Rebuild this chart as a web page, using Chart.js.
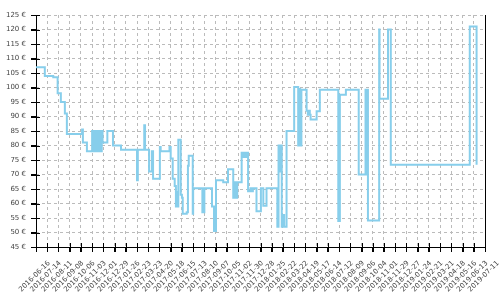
<!DOCTYPE html>
<html><head><meta charset="utf-8">
<script src="https://cdn.jsdelivr.net/npm/chart.js@4/dist/chart.umd.min.js"></script>
<style>html,body{margin:0;padding:0;background:#fff}#wrap{width:500px;height:300px}</style>
</head><body><div id="wrap"><canvas id="c" width="500" height="300"></canvas></div>
<script>
const startDate = '2016-06-16';
const tickDates = ['2016-06-16','2016-07-14','2016-08-11','2016-09-08','2016-10-06','2016-11-03','2016-12-01','2016-12-29',
 '2017-01-26','2017-02-23','2017-03-23','2017-04-20','2017-05-18','2017-06-15','2017-07-13','2017-08-10','2017-09-07',
 '2017-10-05','2017-11-02','2017-11-30','2017-12-28','2018-01-25','2018-02-22','2018-03-22','2018-04-19','2018-05-17',
 '2018-06-14','2018-07-12','2018-08-09','2018-09-06','2018-10-04','2018-11-01','2018-11-29','2018-12-27','2019-01-24',
 '2019-02-21','2019-03-21','2019-04-18','2019-05-16','2019-06-13','2019-07-11'];
const yTicks = [45,50,55,60,65,70,75,80,85,90,95,100,105,110,115,120,125];
const priceDates = ['2016-06-16','2016-07-08','2016-07-29','2016-08-09','2016-08-17','2016-08-27','2016-09-01',
 '2016-10-09','2016-10-11','2016-10-21','2016-11-03','2016-11-05','2016-11-07','2016-11-10','2016-11-12','2016-11-14',
 '2016-11-17','2016-11-19','2016-11-21','2016-11-24','2016-11-27','2016-11-29','2016-12-11','2016-12-25','2017-01-14',
 '2017-02-23','2017-02-25','2017-03-13','2017-03-15','2017-03-25','2017-04-01','2017-04-04','2017-04-21','2017-04-23',
 '2017-05-15','2017-05-18','2017-05-23','2017-05-28','2017-05-31','2017-06-02','2017-06-04','2017-06-06','2017-06-12',
 '2017-06-15','2017-06-17','2017-06-27','2017-06-30','2017-07-02','2017-07-12','2017-07-13','2017-08-05','2017-08-10',
 '2017-08-29','2017-09-03','2017-09-08','2017-09-26','2017-10-08','2017-10-21','2017-10-24','2017-10-26','2017-10-31',
 '2017-11-11','2017-11-14','2017-11-17','2017-11-20','2017-11-23','2017-11-27','2017-12-03','2017-12-06','2017-12-09',
 '2017-12-18','2017-12-29','2018-01-04','2018-01-12','2018-02-08','2018-02-11','2018-02-14','2018-02-16','2018-02-19',
 '2018-02-22','2018-02-25','2018-03-03','2018-03-22','2018-04-01','2018-04-04','2018-04-06','2018-04-09','2018-04-22',
 '2018-04-25','2018-04-27','2018-04-30','2018-05-02','2018-05-17','2018-05-25','2018-07-10','2018-07-14','2018-07-29',
 '2018-08-30','2018-09-16','2018-09-18','2018-09-20','2018-09-22','2018-10-20','2018-10-21','2018-11-11','2018-11-18',
 '2019-06-03','2019-06-20'];
const prices = [107,104,103.5,98,95,91,84,
 85.5,81,78,85,78,85,78,85,78,
 85,78,85,78,85,81,85,80,78.5,
 68,78.5,87,78.5,71,78,68.5,79.5,78,
 79.5,75.5,68.5,66,59,64,59,82,63,
 62,56.5,57,73,76.5,56.5,65.3,57,65.3,
 59,50.5,68,67.3,71.8,62,67.3,62,67.3,
 77.5,76,77.5,76,77.5,64.2,65.3,64.2,65.3,
 57.3,65.3,59.2,65.3,52,80,71,80,52,
 56,52,85,100.2,80,99.5,80,99.2,92,
 90.6,92,90.6,89,91.8,99.2,54,97.5,99.2,
 70,99.2,70,99.2,54.1,120,96.1,120,73.4,
 121,73.4];

const DAY = 86400000;
const t0 = Date.parse(startDate);
const toDay = s => Math.round((Date.parse(s) - t0) / DAY);
const tickDays = tickDates.map(toDay);
const points = priceDates.map((d, i) => ({x: toDay(d), y: prices[i]}));

const axisMarks = {
  id: 'axisMarks',
  beforeDatasetsDraw(chart) {
    const {ctx, chartArea: a, scales: {x, y}} = chart;
    ctx.save();
    ctx.strokeStyle = '#000';
    ctx.lineWidth = 1;
    ctx.setLineDash([]);
    ctx.beginPath();
    x.ticks.forEach((t, i) => {
      const px = Math.round(x.getPixelForTick(i)) + 0.5;
      ctx.moveTo(px, a.bottom + 5); ctx.lineTo(px, a.bottom - 4);
    });
    y.ticks.forEach((t, i) => {
      const py = Math.round(y.getPixelForTick(i)) + 0.5;
      ctx.moveTo(a.left - 5, py); ctx.lineTo(a.left + 4, py);
    });
    const lx = Math.round(a.left) + 0.5, rx = Math.round(a.right) + 0.5, by = Math.round(a.bottom) + 0.5;
    ctx.moveTo(lx, a.top); ctx.lineTo(lx, by);
    ctx.lineTo(rx, by); ctx.lineTo(rx, a.top);
    ctx.stroke();
    ctx.restore();
  }
};

new Chart(document.getElementById('c'), {
  type: 'line',
  data: {
    datasets: [{
      data: points,
      stepped: true,
      borderColor: '#87ceeb',
      borderWidth: 2,
      pointRadius: 0,
      fill: false
    }]
  },
  options: {
    responsive: false,
    devicePixelRatio: 1,
    animation: false,
    layout: {padding: {top: 15, right: 15, left: 0, bottom: 0}},
    plugins: {legend: {display: false}, tooltip: {enabled: false}},
    scales: {
      x: {
        type: 'linear',
        min: tickDays[0],
        max: tickDays[tickDays.length - 1],
        afterBuildTicks: s => { s.ticks = tickDays.map(v => ({value: v})); },
        afterFit: s => { s.height = 53; s.paddingLeft = 0; s.paddingRight = 0; },
        grid: {color: '#bbbbbb', lineWidth: 1, tickColor: '#000', tickLength: 5, tickBorderDash: []},
        border: {display: false, dash: [3, 3]},
        ticks: {
          autoSkip: false,
          maxRotation: 45, minRotation: 45,
          labelOffset: 13, padding: 7,
          color: '#444',
          font: {family: 'DejaVu Sans', size: 7},
          callback: v => { const i = tickDays.indexOf(v); return i >= 0 ? tickDates[i] : ''; }
        }
      },
      y: {
        min: yTicks[0],
        max: yTicks[yTicks.length - 1],
        afterBuildTicks: s => { s.ticks = yTicks.map(v => ({value: v})); },
        afterFit: s => { s.width = 36; },
        grid: {color: '#bbbbbb', lineWidth: 1, tickColor: '#000', tickLength: 5, tickBorderDash: []},
        border: {display: false, dash: [3, 3]},
        ticks: {
          padding: 5,
          color: '#444',
          font: {family: 'DejaVu Sans', size: 7},
          callback: v => v + ' €'
        }
      }
    }
  },
  plugins: [axisMarks]
});
</script></body></html>
